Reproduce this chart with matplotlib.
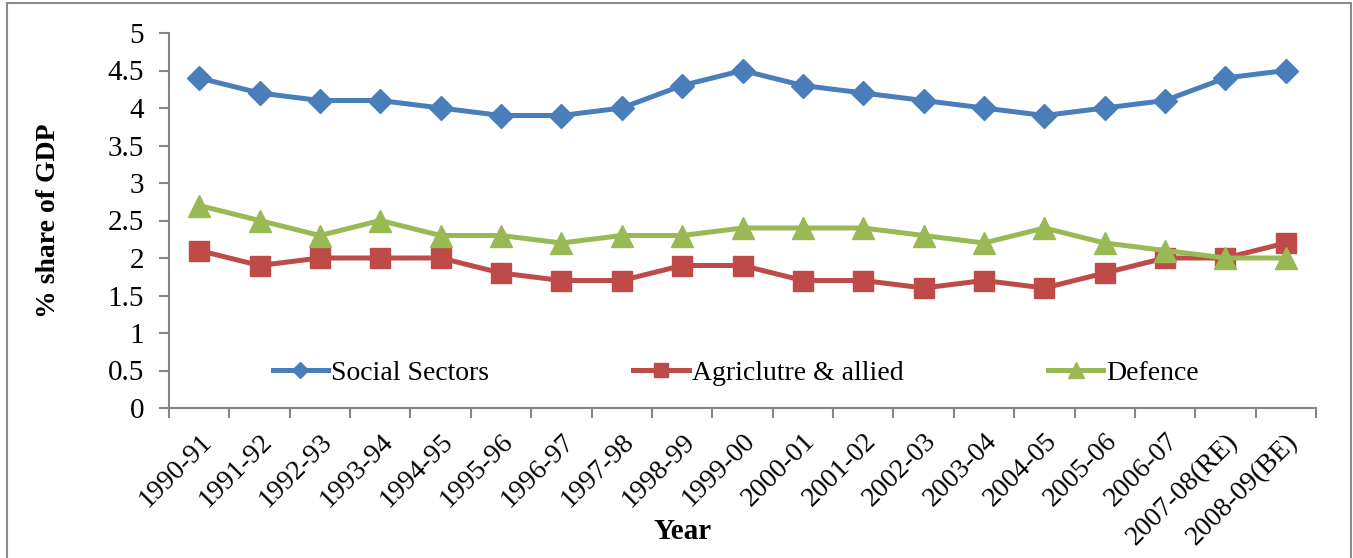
import matplotlib
matplotlib.use("Agg")
import matplotlib.pyplot as plt
from matplotlib.patches import Rectangle
import numpy as np

years = ["1990-91", "1991-92", "1992-93", "1993-94", "1994-95", "1995-96", "1996-97",
         "1997-98", "1998-99", "1999-00", "2000-01", "2001-02", "2002-03", "2003-04",
         "2004-05", "2005-06", "2006-07", "2007-08(RE)", "2008-09(BE)"]
social = [4.4, 4.2, 4.1, 4.1, 4.0, 3.9, 3.9, 4.0, 4.3, 4.5, 4.3, 4.2, 4.1, 4.0, 3.9, 4.0, 4.1, 4.4, 4.5]
agri = [2.1, 1.9, 2.0, 2.0, 2.0, 1.8, 1.7, 1.7, 1.9, 1.9, 1.7, 1.7, 1.6, 1.7, 1.6, 1.8, 2.0, 2.0, 2.2]
defence = [2.7, 2.5, 2.3, 2.5, 2.3, 2.3, 2.2, 2.3, 2.3, 2.4, 2.4, 2.4, 2.3, 2.2, 2.4, 2.2, 2.1, 2.0, 2.0]
yticks = [0, 0.5, 1, 1.5, 2, 2.5, 3, 3.5, 4, 4.5, 5]
ytick_labels = ["0", "0.5", "1", "1.5", "2", "2.5", "3", "3.5", "4", "4.5", "5"]

plt.rcParams['font.family'] = ['Liberation Serif', 'DejaVu Serif']

fig = plt.figure(figsize=(13.53, 5.58), dpi=100)
W, H = 1353, 558
ax = fig.add_axes([169 / W, 1 - 408 / H, (1316 - 169) / W, (408 - 33) / H])

x = np.arange(len(years))
ax.plot(x, social, color="#4A7EBB", lw=3.6, marker="D", ms=12, label="Social Sectors")
ax.plot(x, agri, color="#BE4B48", lw=3.6, marker="s", ms=14.5, label="Agriclutre & allied")
ax.plot(x, defence, color="#98B954", lw=3.6, marker="^", ms=15.5, label="Defence")

ax.set_xlim(-0.5, len(years) - 0.5)
ax.set_ylim(0, 5)
ax.set_yticks(yticks)
ax.set_yticklabels(ytick_labels, fontsize=21)
ax.set_xticks(np.arange(len(years) + 1) - 0.5)
ax.set_xticklabels([])
ax.set_xticks(x, minor=True)
ax.set_xticklabels(years, minor=True, rotation=45, ha="right", rotation_mode="anchor", fontsize=20)
ax.tick_params(axis="x", which="minor", length=0, pad=15)
ax.tick_params(axis="x", which="major", length=7, color="#868686", width=1.5)
ax.tick_params(axis="y", length=7, color="#868686", width=1.5, pad=11)

for s in ["top", "right"]:
    ax.spines[s].set_visible(False)
for s in ["left", "bottom"]:
    ax.spines[s].set_color("#868686")
    ax.spines[s].set_linewidth(1.5)

ax.set_ylabel("% share of GDP", fontsize=20, fontweight="bold")
ax.yaxis.set_label_coords((61 - 169) / 1147, 0.5)
ax.set_xlabel("Year", fontsize=21, fontweight="bold")
ax.xaxis.set_label_coords((683 - 169) / 1147, (408 - 518) / 375)

leg = ax.legend(loc="center", bbox_to_anchor=(0.494, 0.093), ncol=3, frameon=False,
                fontsize=20, handlelength=2.0, handletextpad=0.1, columnspacing=5.2,
                markerscale=0.7)

fig.add_artist(Rectangle((7 / W, -0.01), (1351 - 7) / W, 1 - 3 / H + 0.01,
                         transform=fig.transFigure, fill=False, edgecolor="#8c8c8c", lw=1.5))

fig.savefig("out.png", dpi=100)
